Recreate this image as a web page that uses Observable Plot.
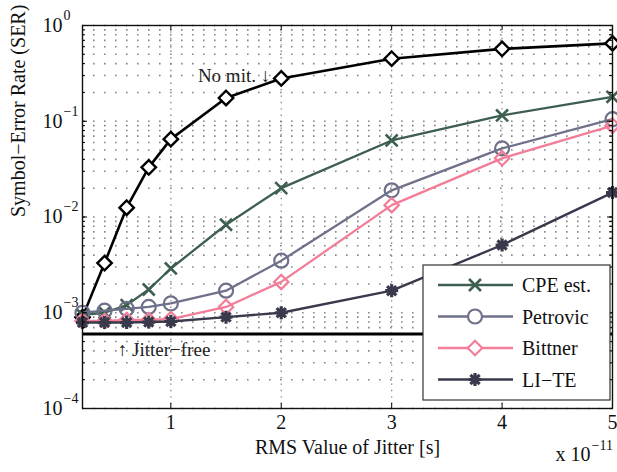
<!DOCTYPE html>
<html>
<head>
<meta charset="utf-8">
<script src="https://cdn.jsdelivr.net/npm/d3@7"></script>
<script src="https://cdn.jsdelivr.net/npm/@observablehq/plot@0.6"></script>
<style>
  html, body { margin: 0; padding: 0; background: #fff; }
  #chart { position: relative; width: 617px; height: 472px; }
</style>
</head>
<body>
<div id="chart"></div>
<script>
// ---------- data ----------
const jitter = [0.2, 0.4, 0.6, 0.8, 1, 1.5, 2, 3, 4, 5]; // x 10^-11 s
const noMit    = [9e-4, 3.3e-3, 1.25e-2, 3.3e-2, 6.5e-2, 0.175, 0.28, 0.45, 0.57, 0.65];
const cpeEst   = [9.5e-4, 1.0e-3, 1.2e-3, 1.75e-3, 2.9e-3, 8.3e-3, 2.0e-2, 6.3e-2, 0.115, 0.18];
const petrovic = [1.0e-3, 1.05e-3, 1.1e-3, 1.15e-3, 1.25e-3, 1.7e-3, 3.5e-3, 1.9e-2, 5.2e-2, 0.105];
const bittner  = [8.2e-4, 8.2e-4, 8.4e-4, 8.4e-4, 8.6e-4, 1.15e-3, 2.1e-3, 1.33e-2, 4.1e-2, 0.09];
const liTe     = [7.9e-4, 7.9e-4, 7.9e-4, 8.0e-4, 8.1e-4, 9.0e-4, 1.0e-3, 1.7e-3, 5.1e-3, 1.8e-2];
const jitterFree = 6e-4;

const seriesNames = ["No mit.", "CPE est.", "Petrovic", "Bittner", "LI\u2212TE"];
const seriesValues = [noMit, cpeEst, petrovic, bittner, liTe];
const xTicks = [1, 2, 3, 4, 5];
const xGrid = [1, 2, 3, 4];
const yDecades = [1e-4, 1e-3, 1e-2, 1e-1, 1];
const yExponents = ["\u22124", "\u22123", "\u22122", "\u22121", "0"];
const xLabel = "RMS Value of Jitter [s]";
const yLabel = "Symbol\u2212Error Rate (SER)";
const legendNames = ["CPE est.", "Petrovic", "Bittner", "LI\u2212TE"];

// ---------- styles ----------
const FONT = "Liberation Serif";
const asterisk8 = {
  draw(ctx, size) {
    const r = Math.sqrt(size / Math.PI);
    for (let i = 0; i < 4; i++) {
      const a = i * Math.PI / 4;
      ctx.moveTo(-r * Math.cos(a), -r * Math.sin(a));
      ctx.lineTo(r * Math.cos(a), r * Math.sin(a));
    }
  }
};
const style = {
  "No mit.":  {color: "#000000", symbol: "diamond2", r: 6.5, lw: 2.6, mw: 2.4, fill: "white"},
  "CPE est.": {color: "#3d5f50", symbol: "times",    r: 5.5, lw: 2.3, mw: 2.6, fill: "none"},
  "Petrovic": {color: "#6e7189", symbol: "circle",   r: 7,   lw: 2.3, mw: 2.2, fill: "none"},
  "Bittner":  {color: "#f27d98", symbol: "diamond2", r: 6.5, lw: 2.3, mw: 2.2, fill: "none"},
  "LI\u2212TE": {color: "#383a4b", symbol: asterisk8, r: 6.5, lw: 2.4, mw: 3.2, fill: "none"}
};

const rows = [];
seriesNames.forEach((name, k) => {
  jitter.forEach((x, i) => rows.push({series: name, x, y: seriesValues[k][i]}));
});

// grid values (log minor lines)
const yMinor = [];
for (let e = -4; e < 0; e++) for (let m = 1; m <= 9; m++) yMinor.push(m * Math.pow(10, e));
yMinor.push(1);

const W = 617, H = 472;
const mL = 82, mR = 5, mT = 25, mB = 64;
const pw = W - mL - mR, ph = H - mT - mB;

const txt = {fontFamily: FONT, fill: "#111"};

const marks = [
  Plot.ruleY(yMinor, {y: d => d, stroke: "#666", strokeOpacity: 0.8, strokeDasharray: "1.6,9.4", strokeWidth: 1.6}),
  Plot.ruleX(xGrid, {x: d => d, stroke: "#666", strokeOpacity: 0.8, strokeDasharray: "1.4,5", strokeWidth: 1.3}),
  Plot.ruleY([jitterFree], {y: d => d, stroke: "#000", strokeWidth: 3.2})
];
seriesNames.forEach(name => {
  const s = style[name];
  const data = rows.filter(d => d.series === name);
  marks.push(Plot.line(data, {x: "x", y: "y", stroke: s.color, strokeWidth: s.lw}));
  marks.push(Plot.dot(data, {x: "x", y: "y", symbol: () => s.symbol, r: s.r, stroke: s.color, strokeWidth: s.mw, fill: s.fill}));
});
// ticks (inward)
marks.push(
  Plot.tickX(xTicks, {x: d => d, insetTop: ph - 5, stroke: "#000"}),
  Plot.tickX(xTicks, {x: d => d, insetBottom: ph - 5, stroke: "#000"}),
  Plot.tickY(yDecades, {y: d => d, insetRight: pw - 5, stroke: "#000"}),
  Plot.tickY(yDecades, {y: d => d, insetLeft: pw - 5, stroke: "#000"}),
  Plot.tickY(yMinor, {y: d => d, insetRight: pw - 3, stroke: "#000"}),
  Plot.tickY(yMinor, {y: d => d, insetLeft: pw - 3, stroke: "#000"}),
  Plot.frame({stroke: "#111", strokeWidth: 1.4})
);
// tick labels
marks.push(
  Plot.text(xTicks, {x: d => d, frameAnchor: "bottom", dy: 20, text: d => String(d), fontSize: 20, ...txt}),
  Plot.text(yDecades, {y: d => d, frameAnchor: "left", dx: -20, text: () => "10", textAnchor: "end", fontSize: 20, ...txt}),
  Plot.text(yDecades, {y: d => d, frameAnchor: "left", dx: -19, dy: -10, text: (d, i) => yExponents[i], textAnchor: "start", fontSize: 14, ...txt}),
  Plot.text([xLabel], {frameAnchor: "bottom", dy: 45, text: d => d, fontSize: 20, ...txt}),
  Plot.text([yLabel], {frameAnchor: "left", dx: -64, rotate: -90, text: d => d, fontSize: 20, ...txt}),
  Plot.text(["x 10"], {frameAnchor: "bottom-right", dx: -22, dy: 52, text: d => d, textAnchor: "end", fontSize: 20, ...txt}),
  Plot.text(["\u221211"], {frameAnchor: "bottom-right", dx: -21, dy: 41, text: d => d, textAnchor: "start", fontSize: 14, ...txt}),
  // annotations
  Plot.text(["No mit. \u2193"], {x: () => 1.9, y: () => 0.3, text: d => d, textAnchor: "end", fontSize: 19, fontFamily: FONT, fill: "#222"}),
  Plot.text(["\u2191 Jitter\u2212free"], {x: () => 0.52, y: () => 4.1e-4, text: d => d, textAnchor: "start", fontSize: 19, fontFamily: FONT, fill: "#222"})
);

const plot = Plot.plot({
  width: W, height: H,
  marginLeft: mL, marginRight: mR, marginTop: mT, marginBottom: mB,
  style: {background: "white", overflow: "visible"},
  x: {domain: [0.2, 5], axis: null},
  y: {type: "log", domain: [1e-4, 1], axis: null},
  marks
});
plot.setAttribute("font-family", FONT);
document.getElementById("chart").appendChild(plot);

// ---------- legend ----------
const svg = d3.select(plot);
const lg = svg.append("g").attr("font-family", FONT).attr("text-anchor", "start");
const bx = 423, by = 265, bw = 187, bh = 135;
lg.append("rect").attr("x", bx).attr("y", by).attr("width", bw).attr("height", bh)
  .attr("fill", "white").attr("stroke", "#333").attr("stroke-width", 1.2);
legendNames.forEach((name, i) => {
  const s = style[name];
  const cy = by + 20 + i * 31.5;
  lg.append("line").attr("x1", bx + 15).attr("x2", bx + 90).attr("y1", cy).attr("y2", cy)
    .attr("stroke", s.color).attr("stroke-width", s.lw);
  const sym = typeof s.symbol === "string"
    ? {circle: d3.symbolCircle, diamond2: d3.symbolDiamond2, times: d3.symbolTimes}[s.symbol]
    : s.symbol;
  lg.append("path").attr("transform", `translate(${bx + 52},${cy})`)
    .attr("d", d3.symbol(sym, s.r * s.r * Math.PI)())
    .attr("fill", "white").attr("stroke", s.color).attr("stroke-width", s.mw);
  lg.append("text").attr("x", bx + 99).attr("y", cy).attr("dy", "0.35em")
    .attr("font-family", FONT).attr("text-anchor", "start")
    .attr("font-size", 20).attr("fill", "#111").text(name);
});
</script>
</body>
</html>
